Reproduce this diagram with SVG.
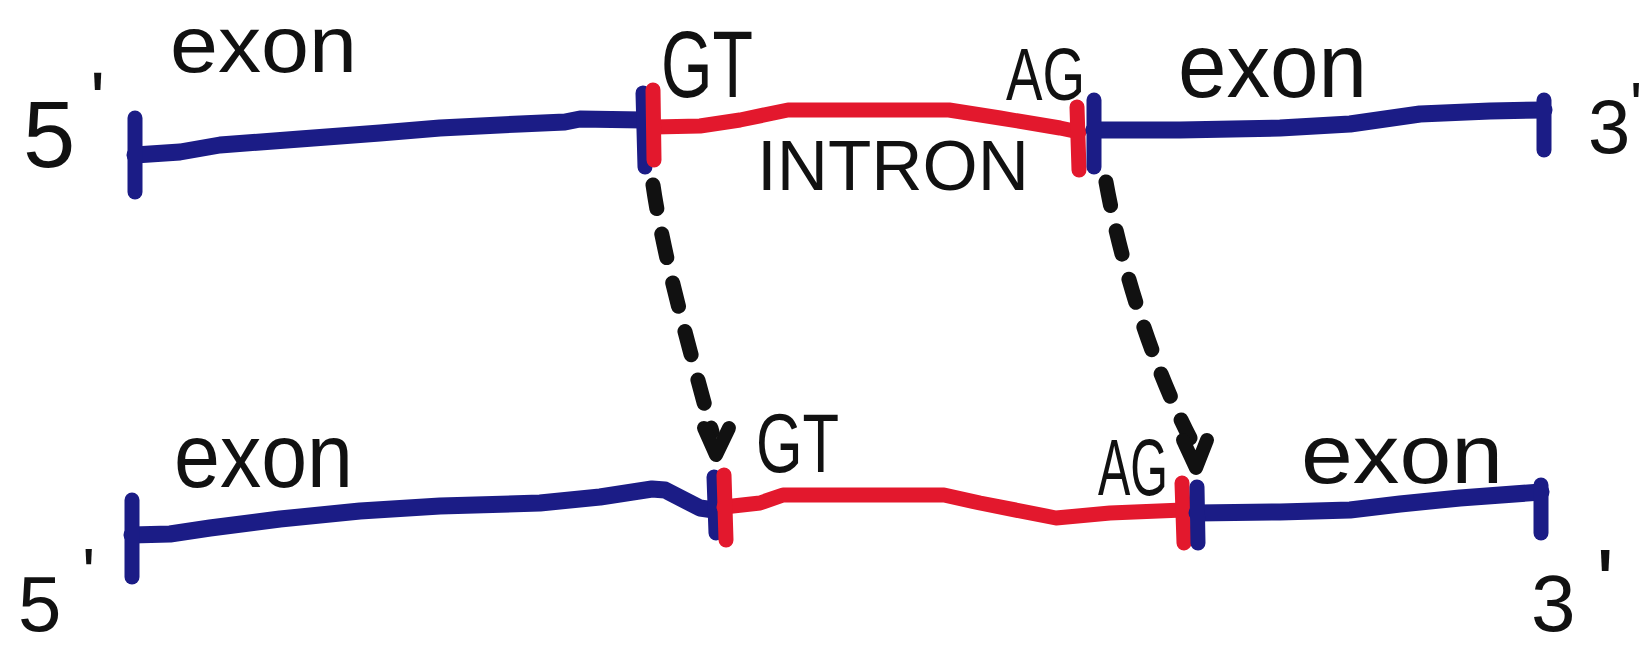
<svg xmlns="http://www.w3.org/2000/svg" width="1644" height="648" viewBox="0 0 1644 648">
<style>
.bg{fill:#ffffff}
.blue{fill:none;stroke:#1b1c86;stroke-width:17;stroke-linecap:round;stroke-linejoin:round}
.red{fill:none;stroke:#e3182d;stroke-width:15;stroke-linecap:round;stroke-linejoin:round}
.cap{stroke-width:15}
.lbl{font-family:"Liberation Sans",Arial,sans-serif;fill:#111111}
.dash{fill:none;stroke:#111111;stroke-width:15;stroke-linecap:round;stroke-dasharray:24 26}
.head{fill:none;stroke:#111111;stroke-width:14;stroke-linecap:round;stroke-linejoin:round}
</style>
<rect class="bg" x="0" y="0" width="1644" height="648"/>

<g id="top-exon-left">
  <path class="blue" d="M135,155 L180,152 L220,145 L300,139 L380,133 L440,128 L520,124 L565,122 L580,119 L643,120"/>
  <path class="blue cap" d="M135,118 L135,192"/>
  <path class="blue cap" d="M643,93 L645,167"/>
  <text class="lbl" x="170" y="72" font-size="80" textLength="187" lengthAdjust="spacingAndGlyphs">exon</text>
  <text class="lbl" x="23" y="167" font-size="94">5<tspan x="90" y="128" font-size="80">'</tspan></text>
</g>

<g id="top-intron">
  <path class="red" d="M654,127 L700,126 L740,120 L788,110 L949,110 L1000,118 L1060,128 L1079,132"/>
  <path class="red cap" d="M653,90 L654,160"/>
  <path class="red cap" d="M1077,107 L1079,170"/>
  <text class="lbl" x="661" y="97" font-size="94" textLength="92" lengthAdjust="spacingAndGlyphs">GT</text>
  <text class="lbl" x="1006" y="100" font-size="74" textLength="79" lengthAdjust="spacingAndGlyphs">AG</text>
  <text class="lbl" x="757" y="190" font-size="70" textLength="272" lengthAdjust="spacingAndGlyphs">INTRON</text>
</g>

<g id="top-exon-right">
  <path class="blue" d="M1094,130 L1180,130 L1280,128 L1350,124 L1420,114 L1490,111 L1544,110"/>
  <path class="blue cap" d="M1094,100 L1094,167"/>
  <path class="blue cap" d="M1544,100 L1544,150"/>
  <text class="lbl" x="1178" y="97" font-size="90" textLength="189" lengthAdjust="spacingAndGlyphs">exon</text>
  <text class="lbl" x="1588" y="153" font-size="76">3</text>
  <text class="lbl" x="1630" y="128" font-size="64">'</text>
</g>

<g id="bottom-exon-left">
  <path class="blue" d="M132,535 L170,534 L210,528 L280,519 L360,511 L440,506 L540,503 L600,497 L652,489 L665,490 L700,508 L714,510"/>
  <path class="blue cap" d="M132,500 L132,577"/>
  <path class="blue cap" d="M714,477 L716,533"/>
  <text class="lbl" x="174" y="487" font-size="90" textLength="179" lengthAdjust="spacingAndGlyphs">exon</text>
  <text class="lbl" x="18" y="631" font-size="78">5<tspan x="82" y="598" font-size="70">'</tspan></text>
</g>

<g id="bottom-intron">
  <path class="red" d="M724,507 L760,503 L783,495 L944,495 L980,503 L1056,518 L1110,513 L1183,510"/>
  <path class="red cap" d="M724,475 L726,540"/>
  <path class="red cap" d="M1182,483 L1184,543"/>
  <text class="lbl" x="756" y="472" font-size="84" textLength="83" lengthAdjust="spacingAndGlyphs">GT</text>
  <text class="lbl" x="1098" y="495" font-size="80" textLength="70" lengthAdjust="spacingAndGlyphs">AG</text>
</g>

<g id="bottom-exon-right">
  <path class="blue" d="M1197,513 L1280,512 L1350,510 L1400,504 L1460,498 L1541,492"/>
  <path class="blue cap" d="M1197,487 L1198,543"/>
  <path class="blue cap" d="M1541,485 L1541,533"/>
  <text class="lbl" x="1301" y="483" font-size="84" textLength="202" lengthAdjust="spacingAndGlyphs">exon</text>
  <text class="lbl" x="1531" y="631" font-size="80">3<tspan x="1596" y="617" font-size="96">'</tspan></text>
</g>

<g id="connectors">
  <path class="dash" d="M653,185 C664,260 690,350 712,432"/>
  <path class="head" d="M704,428 L716,455 L729,428"/>
  <path class="dash" d="M1106,182 C1120,260 1150,360 1190,438"/>
  <path class="head" d="M1183,440 L1196,468 L1207,440"/>
</g>
</svg>
